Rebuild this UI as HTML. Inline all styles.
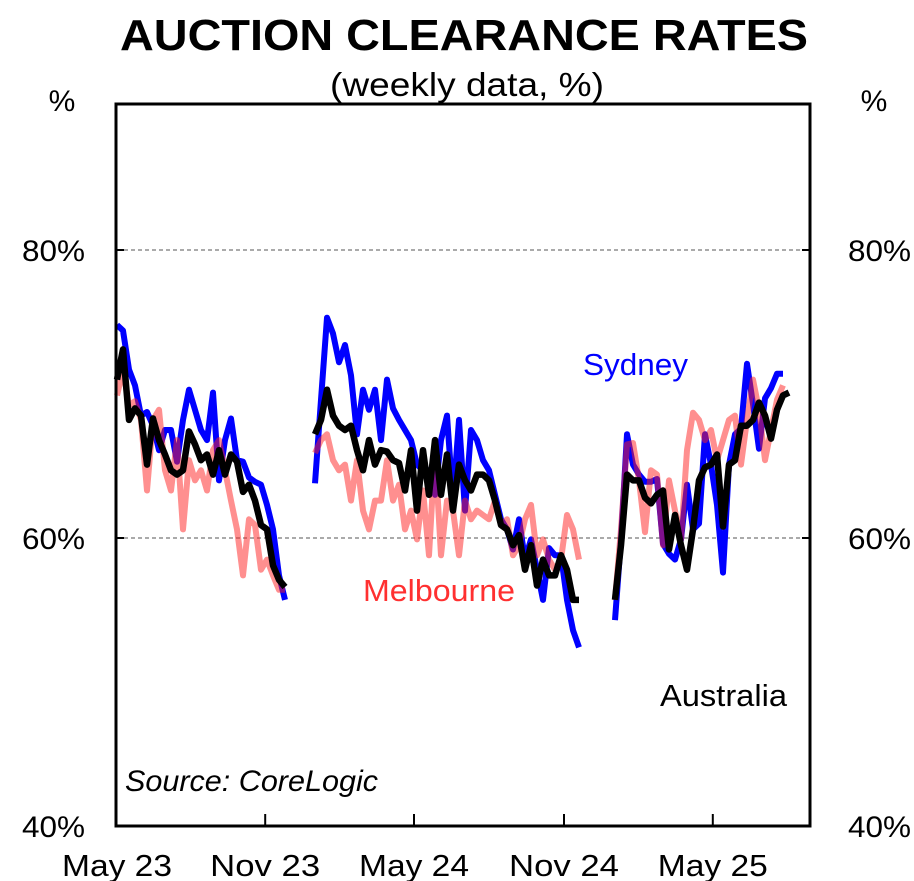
<!DOCTYPE html>
<html><head><meta charset="utf-8"><style>
body{margin:0;background:#fff;}
svg{display:block;font-family:"Liberation Sans",Arial,sans-serif;}
</style></head><body>
<svg id="chart" width="914" height="881">
<text x="120" y="50" font-size="44" font-weight="bold" textLength="688" lengthAdjust="spacingAndGlyphs">AUCTION CLEARANCE RATES</text>
<text x="330" y="96" font-size="33" textLength="274" lengthAdjust="spacingAndGlyphs">(weekly data, %)</text>
<text x="62" y="111" text-anchor="middle" font-size="30">%</text>
<text x="874" y="111" text-anchor="middle" font-size="30">%</text>
<g id="grid"></g>
<g id="series"></g>
<rect x="116" y="104" width="694" height="722" fill="none" stroke="#000" stroke-width="3"/>
<g id="axes"></g>
<text x="583" y="375" font-size="31" fill="#0000ff" textLength="105" lengthAdjust="spacingAndGlyphs">Sydney</text>
<text x="363" y="601" font-size="31" fill="#ff3030" textLength="152" lengthAdjust="spacingAndGlyphs">Melbourne</text>
<text x="660" y="706" font-size="31" fill="#000" textLength="127" lengthAdjust="spacingAndGlyphs">Australia</text>
<text x="125" y="791" font-size="30" font-style="italic" textLength="253" lengthAdjust="spacingAndGlyphs">Source: CoreLogic</text>
</svg>
<script>
const yTicks=[40,60,80];
const yTickLabels=["40%","60%","80%"];
const xTickWeeks=[0,24.7,49.5,74.5,99.3];
const xTickLabels=["May 23","Nov 23","May 24","Nov 24","May 25"];
const sydney=[74.8,74.4,71.7,70.6,68.5,68.75,67.8,66.1,67.5,67.5,65.3,68.2,70.3,68.9,67.5,66.8,70.1,64.0,66.8,68.3,65.4,65.3,64.2,63.9,63.7,62.3,60.6,57.4,55.7,
null,null,null,null,
63.8,69.6,75.3,74.2,72.2,73.4,71.3,67.2,70.3,68.9,70.3,66.8,71.0,69.0,68.2,67.5,66.8,65.1,64.7,64.7,63.0,66.8,68.5,62.6,68.2,61.9,67.5,66.8,65.4,64.7,63.0,61.3,60.6,59.2,61.3,58.5,59.9,57.8,55.7,59.3,58.8,58.8,55.7,53.6,52.4,
null,null,null,null,null,
54.3,59.9,67.2,65.1,64.4,63.9,63.9,64.1,59.6,58.9,58.5,59.9,63.7,60.6,61.0,67.2,65.1,62.3,57.6,65.1,67.2,67.6,72.1,69.3,66.2,69.7,70.4,71.4,71.4,null];
const melbourne=[69.9,71.7,69.2,69.5,68.2,63.3,68.2,68.9,64.7,63.3,66.8,60.6,65.4,64.0,64.7,63.3,66.1,66.8,64.7,62.6,60.6,57.4,61.3,60.9,57.8,58.5,57.4,56.4,56.4,
null,null,null,null,
65.9,66.8,67.2,65.4,64.7,65.1,62.6,65.4,61.9,60.6,62.6,62.6,65.4,62.6,63.7,60.6,61.9,59.9,63.3,58.8,66.1,58.8,62.6,61.9,58.8,62.6,61.3,61.9,61.6,61.3,62.6,60.9,61.3,58.8,59.5,61.3,62.3,58.8,59.9,58.5,57.8,58.5,61.6,60.6,58.5,
null,null,null,null,null,
55.7,60.6,66.5,66.6,64.0,60.4,64.7,64.4,59.5,64.0,61.9,59.9,66.1,68.7,68.2,66.8,67.5,65.4,66.8,68.2,68.5,65.1,68.2,71.0,68.9,65.4,67.5,69.6,70.6,null];
const australia=[71.0,73.1,68.2,69.0,68.5,65.1,68.3,66.8,65.8,64.7,64.4,64.7,67.4,66.5,65.4,65.8,64.4,66.1,64.4,65.8,65.3,63.2,63.7,62.6,60.9,60.6,58.1,57.1,56.6,
null,null,null,null,
67.2,68.2,70.3,68.5,67.8,67.5,67.8,66.1,64.7,66.8,65.1,66.1,66.0,65.4,65.2,63.3,66.1,61.9,66.1,63.0,66.8,63.0,65.8,61.9,65.1,64.0,63.3,64.4,64.4,64.0,62.6,60.9,60.6,59.5,60.2,57.8,59.5,56.7,58.5,57.4,57.4,58.8,57.8,55.7,55.7,
null,null,null,null,null,
55.7,59.5,64.4,64.0,64.0,62.8,62.4,63.0,63.3,59.2,61.6,59.5,57.8,60.6,64.0,64.9,65.1,65.8,60.8,65.1,65.4,67.8,67.8,68.2,69.4,68.5,66.9,68.9,69.9,70.1];

const NS="http://www.w3.org/2000/svg";
function X(w){return 117+w*6;}
function Y(v){return 826-(v-40)*14.4;}
const grid=document.getElementById('grid'),axes=document.getElementById('axes'),ser=document.getElementById('series');
yTicks.forEach((t,i)=>{
  if(t>40){const l=document.createElementNS(NS,'line');
  l.setAttribute('x1',117);l.setAttribute('x2',809);l.setAttribute('y1',Y(t));l.setAttribute('y2',Y(t));
  l.setAttribute('stroke','#555');l.setAttribute('stroke-dasharray','4,3');l.setAttribute('stroke-width','1');
  
  
  grid.appendChild(l);
  [[116,124],[802,810]].forEach(p=>{const k=document.createElementNS(NS,'line');k.setAttribute('x1',p[0]);k.setAttribute('x2',p[1]);k.setAttribute('y1',Y(t));k.setAttribute('y2',Y(t));k.setAttribute('stroke','#000');k.setAttribute('stroke-width','2');
  
  
  axes.appendChild(k);});}
  [[22,'left'],[848,'right']].forEach(p=>{const tx=document.createElementNS(NS,'text');
  tx.setAttribute('x',p[0]);tx.setAttribute('y',Y(t)+11);tx.setAttribute('font-size','30');
  tx.setAttribute('textLength','63');tx.setAttribute('lengthAdjust','spacingAndGlyphs');
  tx.textContent=yTickLabels[i];
  
  
  axes.appendChild(tx);});
});
xTickWeeks.forEach((w,i)=>{
  if(i>0){const k=document.createElementNS(NS,'line');k.setAttribute('x1',X(w));k.setAttribute('x2',X(w));k.setAttribute('y1',826);k.setAttribute('y2',814);k.setAttribute('stroke','#000');k.setAttribute('stroke-width','2');
  
  
  axes.appendChild(k);}
  const tx=document.createElementNS(NS,'text');tx.setAttribute('x',X(w)-55);tx.setAttribute('y',876);tx.setAttribute('font-size','31');
  tx.setAttribute('textLength','110');tx.setAttribute('lengthAdjust','spacingAndGlyphs');
  tx.textContent=xTickLabels[i];
  
  
  axes.appendChild(tx);
});
function draw(arr,color,op,w,name){
  let d='',pen=false;
  arr.forEach((v,i)=>{if(v==null){pen=false;return;}d+=(pen?'L':'M')+X(i).toFixed(1)+' '+Y(v).toFixed(1)+' ';pen=true;});
  const p=document.createElementNS(NS,'path');p.setAttribute('d',d);p.setAttribute('fill','none');p.setAttribute('stroke',color);
  p.setAttribute('stroke-width',w);p.setAttribute('stroke-linejoin','round');p.setAttribute('stroke-opacity',op);
  
  
  ser.appendChild(p);
}
draw(sydney,'#0000ff',1,6,'sydney-line');
draw(melbourne,'#ff2020',0.5,6,'melbourne-line');
draw(australia,'#000',1,6.5,'australia-line');
</script>
</body></html>
